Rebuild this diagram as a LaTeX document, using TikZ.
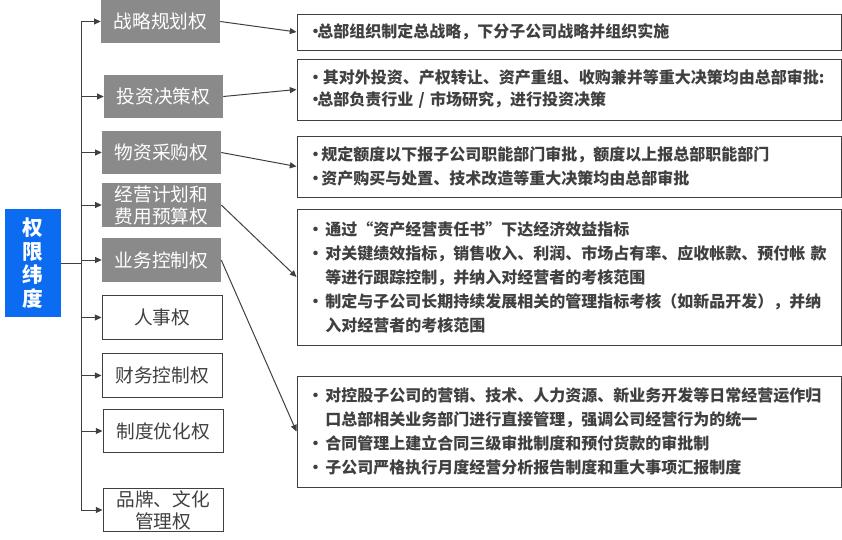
\documentclass[tikz,border=0pt]{standalone}
\usepackage{fontspec}
\setmainfont{Noto Sans CJK SC}
\usetikzlibrary{arrows.meta,positioning}
\definecolor{dimblue}{HTML}{0B6CF2}
\definecolor{boxgray}{HTML}{8A8A8A}
\definecolor{ink}{HTML}{404040}
\newcommand{\itm}[1][1.1em]{\makebox[#1][l]{\textbullet}}

\begin{document}
\begin{tikzpicture}[x=0.75pt, y=-0.75pt,
  every node/.style={inner sep=0pt},
  gbox/.style={rectangle, fill=boxgray, text=white, minimum width=89.25pt,
               minimum height=32.6pt, align=center,
               font=\fontsize{14}{16.5}\selectfont},
  wbox/.style={gbox, fill=white, draw=ink, line width=0.75pt, text=ink,
               minimum width=90pt},
  note/.style={rectangle, draw=ink, line width=0.75pt, text width=392pt,
               inner xsep=8pt, align=left, text=ink,
               font=\bfseries\fontsize{12}{18}\selectfont},
  arr/.style={-{Triangle[length=5pt,width=4.5pt]}, ink, line width=0.75pt},
  line/.style={ink, line width=0.75pt},
]
\useasboundingbox (0,0) rectangle (842,539);

\node[fill=dimblue, text=white, minimum width=42pt, minimum height=81pt,
      align=center, font=\bfseries\fontsize{15.5}{17.6}\selectfont] (dim)
  at (33,263) {权\\限\\纬\\度};

\node[gbox] (s1) at (160.5,21.5) {战略规划权};
\node[gbox] (s2) at (163.5,96.5) {投资决策权};
\node[gbox] (s3) at (161.5,152.5) {物资采购权};
\node[gbox] (s4) at (161.5,205) {经营计划和\\费用预算权};
\node[gbox] (s5) at (161.5,260) {业务控制权};
\node[wbox] (s6) at (162,317.5) {人事权};
\node[wbox] (s7) at (162,375.5) {财务控制权};
\node[wbox] (s8) at (163,431) {制度优化权};
\node[wbox] (s9) at (163,510) {品牌、文化\\管理权};

\node[note, minimum height=27pt] (r1) at (569,32)
  {\itm[0.6em]总部组织制定总战略，下分子公司战略并组织实施};
\node[note, minimum height=45.75pt, font=\bfseries\fontsize{12}{16.5}\selectfont] (r2) at (569,89.5)
  {\itm[0.95em]其对外投资、产权转让、资产重组、收购兼并等重大决策均由总部审批:\\
   \itm[0.6em]总部负责行业 / 市场研究，进行投资决策};
\node[note, minimum height=45.75pt] (r3) at (569,166.5)
  {\itm[0.85em]规定额度以下报子公司职能部门审批，额度以上报总部职能部门\\
   \itm[0.85em]资产购买与处置、技术改造等重大决策均由总部审批};
\node[note, minimum height=102pt] (r4) at (569,277)
  {\itm 通过“资产经营责任书”下达经济效益指标\\
   \itm 对关键绩效指标，销售收入、利润、市场占有率、应收帐款、预付帐 款\\
   \hspace*{1.1em}等进行跟踪控制，并纳入对经营者的考核范围\\
   \itm 制定与子公司长期持续发展相关的管理指标考核（如新品开发），并纳\\
   \hspace*{1.1em}入对经营者的考核范围};
\node[note, minimum height=83.25pt] (r5) at (569,431.5)
  {\itm 对控股子公司的营销、技术、人力资源、新业务开发等日常经营运作归\\
   \hspace*{1.1em}口总部相关业务部门进行直接管理，强调公司经营行为的统一\\
   \itm 合同管理上建立合同三级审批制度和预付货款的审批制\\
   \itm 子公司严格执行月度经营分析报告制度和重大事项汇报制度};

\coordinate (trunk) at (81,263);
\draw[line] (dim.east) -- (trunk);
\draw[line] (trunk |- s1.west) -- (trunk |- s9.west);
\foreach \i in {1,...,9}
  \draw[arr] (trunk |- s\i.west) -- (s\i.west);
\foreach \i in {1,...,5}
  \draw[arr] (s\i.east) -- (r\i.west);

\end{tikzpicture}
\end{document}
